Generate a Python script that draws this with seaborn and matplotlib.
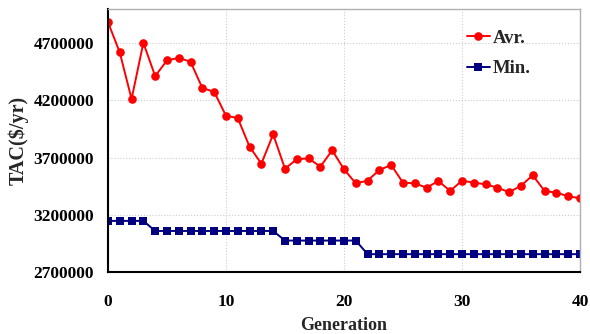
import numpy as np
import pandas as pd
import matplotlib
matplotlib.use("Agg")
import matplotlib.pyplot as plt
import seaborn as sns
from matplotlib.ticker import MultipleLocator

generation = list(range(41))
avr = [4885000, 4620000, 4212000, 4704000, 4413000, 4550000, 4573000, 4538000, 4308000, 4276000,
       4066000, 4046000, 3795000, 3647000, 3903000, 3603000, 3685000, 3694000, 3620000, 3764000,
       3598000, 3475000, 3498000, 3592000, 3635000, 3481000, 3475000, 3437000, 3495000, 3408000,
       3498000, 3481000, 3466000, 3437000, 3397000, 3454000, 3545000, 3408000, 3393000, 3362000,
       3344000]
minv = [3146000] * 4 + [3058000] * 11 + [2974000] * 7 + [2855000] * 19
series_names = ["Avr.", "Min."]
y_ticks = [2700000, 3200000, 3700000, 4200000, 4700000]
x_ticks = [0, 10, 20, 30, 40]

df = pd.DataFrame({
    "Generation": generation * 2,
    "TAC": avr + minv,
    "Series": [series_names[0]] * len(avr) + [series_names[1]] * len(minv),
})

sns.set_style("white")
plt.rcParams["font.family"] = ["Liberation Serif", "DejaVu Serif"]
plt.rcParams["font.weight"] = "bold"

fig = plt.figure(figsize=(5.9, 3.34), dpi=100)
ax = fig.add_axes([0.183, 0.186, 0.8, 0.787])

sns.lineplot(data=df, x="Generation", y="TAC", hue="Series", style="Series",
             palette={"Avr.": "#FF0000", "Min.": "#000080"},
             markers={"Avr.": "o", "Min.": "s"}, dashes=False,
             markersize=6.2, markeredgewidth=0, linewidth=1.4, ax=ax, legend=False)
ax.lines[1].set_markersize(5.6)

ax.set_xlim(0, 40)
ax.set_ylim(2700000, 5000000)
ax.set_xticks(x_ticks)
ax.set_yticks(y_ticks)
ax.set_yticklabels([str(v) for v in y_ticks])
ax.xaxis.set_minor_locator(MultipleLocator(2))
ax.yaxis.set_minor_locator(MultipleLocator(100000))
ax.tick_params(which="major", direction="inout", length=8, width=1.2, labelsize=12.5, colors="black")
ax.tick_params(which="minor", direction="in", length=4, width=1.0)
for lab in ax.get_xticklabels() + ax.get_yticklabels():
    lab.set_fontweight("bold")
ax.tick_params(axis="x", pad=12)
ax.tick_params(axis="y", pad=6)

ax.grid(True, which="major", linestyle=":", color="#cccccc", linewidth=0.8)
for s in ["left", "bottom"]:
    ax.spines[s].set_color("black")
    ax.spines[s].set_linewidth(1.5)
for s in ["top", "right"]:
    ax.spines[s].set_color("#b0b0b0")
    ax.spines[s].set_linewidth(1.0)

ax.set_xlabel("Generation", fontsize=13, fontweight="bold", labelpad=5)
ax.set_ylabel(r"TAC(\$/yr)", fontsize=14.5, fontweight="bold")
ax.yaxis.set_label_coords(-0.168, 0.5)

leg = ax.legend(ax.lines[:2], series_names, loc="upper right", frameon=False, fontsize=13.5,
                handlelength=1.25, bbox_to_anchor=(0.932, 0.985), labelspacing=0.7,
                handletextpad=0.15)
for t in leg.get_texts():
    t.set_fontweight("bold")

fig.savefig("out.png", dpi=100)
